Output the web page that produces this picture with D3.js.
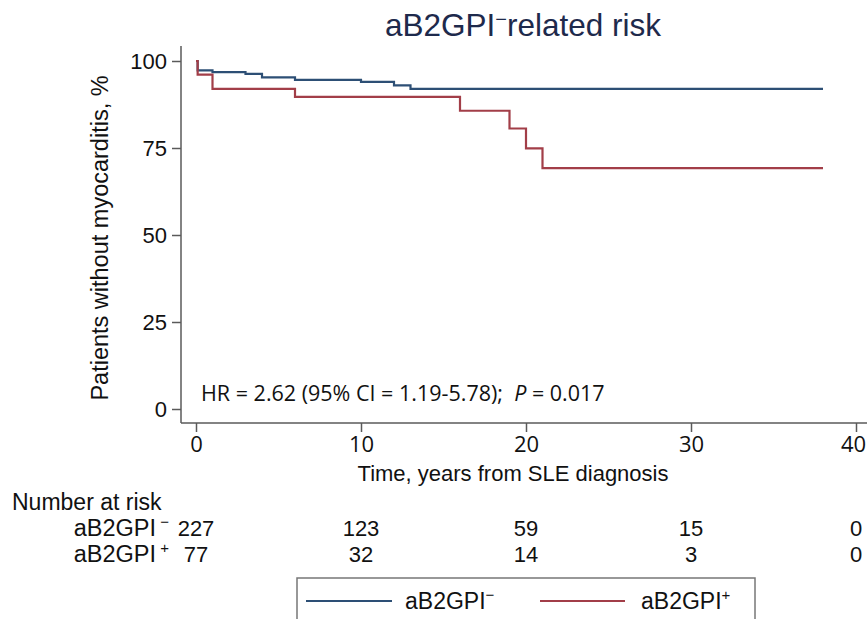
<!DOCTYPE html>
<html>
<head>
<meta charset="utf-8">
<script src="https://cdn.jsdelivr.net/npm/d3@7"></script>
<style>
  html, body { margin: 0; padding: 0; background: #fff; }
  svg { display: block; }
  text { font-family: "Liberation Sans", Arial, sans-serif; fill: #111; }
</style>
</head>
<body>
<svg id="chart" width="867" height="619"></svg>
<script>
// ---- Data ----
const negTimes = [0, 0.1, 1, 3, 4, 6, 10, 12, 13, 38];
const negSurv  = [100, 97.3, 96.8, 96.3, 95.3, 94.6, 94.0, 93.0, 92.0, 92.0];
const posTimes = [0, 0.1, 1, 6, 16, 19, 20, 21, 38];
const posSurv  = [100, 96.1, 92.0, 89.7, 85.7, 80.6, 74.9, 69.2, 69.2];

const xTicks = [0, 10, 20, 30, 40];
const yTicks = [0, 25, 50, 75, 100];
const riskTimes = [0, 10, 20, 30, 40];
const riskNeg = [227, 123, 59, 15, 0];
const riskPos = [77, 32, 14, 3, 0];

const groupLabel = "aB2GPI";
const titleMain = "aB2GPI";
const titleRest = "related risk";
const yTitle = "Patients without myocarditis, %";
const xTitle = "Time, years from SLE diagnosis";
const hrText1 = "HR = 2.62 (95% CI = 1.19-5.78);\u00a0\u00a0";
const hrP = "P";
const hrText2 = " = 0.017";

// ---- Layout ----
const svg = d3.select("#chart");
const colNeg = "#2d4f75";
const colPos = "#a23e48";
const axisCol = "#5a5a5a";

const x = d3.scaleLinear().domain([0, 40]).range([196, 856]);
const y = d3.scaleLinear().domain([0, 100]).range([409, 61]);
const axisX = 181, axisY = 423;

// Title
const title = svg.append("text")
  .attr("x", 523).attr("y", 36)
  .attr("text-anchor", "middle")
  .style("font-size", "31.5px")
  .style("fill", "#1e2a4c");
title.append("tspan").text(titleMain);
title.append("tspan").attr("dy", -10).style("font-size", "20px").text("\u2212");
title.append("tspan").attr("dy", 10).text(titleRest);

// Axes lines
svg.append("line").attr("x1", axisX).attr("x2", axisX).attr("y1", 46).attr("y2", axisY)
  .attr("stroke", axisCol).attr("stroke-width", 1.5);
svg.append("line").attr("x1", axisX).attr("x2", 867).attr("y1", axisY).attr("y2", axisY)
  .attr("stroke", axisCol).attr("stroke-width", 1.5);

// Y axis
const gy = svg.append("g").attr("transform", `translate(${axisX},0)`)
  .call(d3.axisLeft(y).tickValues(yTicks).tickSize(9).tickPadding(5).tickSizeOuter(0));
gy.select(".domain").remove();
gy.selectAll(".tick line").attr("stroke", axisCol).attr("stroke-width", 1.5);
gy.selectAll(".tick text").style("font-size", "22px").style("font-family", "'Liberation Sans', Arial, sans-serif").attr("fill", "#111");

// X axis
const gx = svg.append("g").attr("transform", `translate(0,${axisY})`)
  .call(d3.axisBottom(x).tickValues(xTicks).tickSize(9).tickPadding(4).tickSizeOuter(0));
gx.select(".domain").remove();
gx.selectAll(".tick line").attr("stroke", axisCol).attr("stroke-width", 1.5);
gx.selectAll(".tick text").style("font-size", "22px").style("font-family", "'Open Sans', sans-serif").attr("fill", "#111")
  .attr("dx", (d) => (d === 40 ? -3 : 0));

// Axis titles
svg.append("text")
  .attr("transform", "translate(108,238) rotate(-90)")
  .attr("text-anchor", "middle")
  .style("font-size", "23.5px")
  .text(yTitle);
svg.append("text")
  .attr("x", 513).attr("y", 481)
  .attr("text-anchor", "middle")
  .style("font-size", "22px")
  .text(xTitle);

// Curves
const line = d3.line().x((d) => x(d[0])).y((d) => y(d[1])).curve(d3.curveStepAfter);
svg.append("path").datum(d3.zip(negTimes, negSurv))
  .attr("d", line).attr("fill", "none").attr("stroke", colNeg).attr("stroke-width", 2.2);
svg.append("path").datum(d3.zip(posTimes, posSurv))
  .attr("d", line).attr("fill", "none").attr("stroke", colPos).attr("stroke-width", 2.2);

// HR annotation
const hr = svg.append("text").attr("x", 201).attr("y", 401)
  .style("font-size", "21.5px").style("font-family", "'Open Sans', sans-serif");
hr.append("tspan").text(hrText1);
hr.append("tspan").style("font-style", "italic").text(hrP);
hr.append("tspan").text(hrText2);

// Number at risk
svg.append("text").attr("x", 12).attr("y", 510).style("font-size", "23px").text("Number at risk");

function groupText(sel, sign) {
  sel.append("tspan").text(groupLabel);
  sel.append("tspan").attr("dy", -9).style("font-size", "15px").text("\u00a0" + sign);
  sel.append("tspan").attr("dy", 9).text("");
}
const rowNegY = 536, rowPosY = 562;
groupText(svg.append("text").attr("x", 169).attr("y", rowNegY).attr("text-anchor", "end").style("font-size", "23.5px"), "\u2212");
groupText(svg.append("text").attr("x", 169).attr("y", rowPosY).attr("text-anchor", "end").style("font-size", "23.5px"), "+");

svg.append("g").selectAll("text").data(d3.zip(riskTimes, riskNeg)).join("text")
  .attr("x", (d) => x(d[0])).attr("y", rowNegY).attr("text-anchor", "middle")
  .style("font-size", "22px").text((d) => d[1]);
svg.append("g").selectAll("text").data(d3.zip(riskTimes, riskPos)).join("text")
  .attr("x", (d) => x(d[0])).attr("y", rowPosY).attr("text-anchor", "middle")
  .style("font-size", "22px").text((d) => d[1]);

// Legend
const lg = svg.append("g");
lg.append("rect").attr("x", 297).attr("y", 578).attr("width", 458).attr("height", 60)
  .attr("fill", "#fff").attr("stroke", "#777").attr("stroke-width", 1.5);
const legendItems = [
  { col: colNeg, sign: "\u2212", x1: 306, x2: 392, tx: 405 },
  { col: colPos, sign: "+", x1: 540, x2: 625, tx: 641 }
];
legendItems.forEach((it) => {
  lg.append("line").attr("x1", it.x1).attr("x2", it.x2).attr("y1", 601).attr("y2", 601)
    .attr("stroke", it.col).attr("stroke-width", 2);
  const t = lg.append("text").attr("x", it.tx).attr("y", 609).style("font-size", "23px");
  t.append("tspan").text(groupLabel);
  t.append("tspan").attr("dy", -9).style("font-size", "15px").text(it.sign);
});
</script>
</body>
</html>
